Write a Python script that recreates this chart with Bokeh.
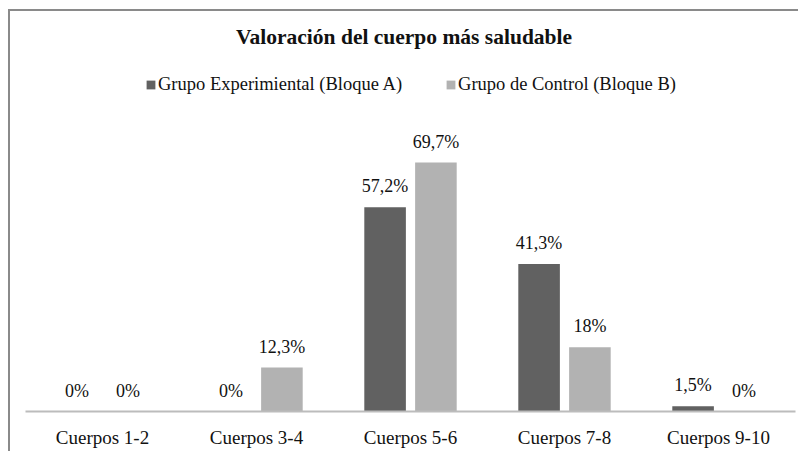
from bokeh.plotting import figure
from bokeh.models import ColumnDataSource, FactorRange, Label, Legend, LegendItem
from bokeh.transform import dodge
from bokeh.core.properties import value
from bokeh.embed import file_html
from bokeh.resources import INLINE

# ---- data ----
categories = ["Cuerpos 1-2", "Cuerpos 3-4", "Cuerpos 5-6", "Cuerpos 7-8", "Cuerpos 9-10"]
experimental = [0, 0, 57.2, 41.3, 1.5]
control = [0, 12.3, 69.7, 18, 0]
series_names = ["Grupo Experimiental (Bloque A)", "Grupo de Control (Bloque B)"]
title_text = "Valoración del cuerpo más saludable"

DARK = "#616161"
LIGHT = "#b2b2b2"
FONT = "Liberation Serif"


def fmt(v):
    s = f"{v:.1f}".rstrip("0").rstrip(".")
    return s.replace(".", ",") + "%"


src = ColumnDataSource(dict(
    cat=categories,
    a=experimental,
    b=control,
    la=[fmt(v) for v in experimental],
    lb=[fmt(v) for v in control],
))

p = figure(
    x_range=FactorRange(factors=categories, range_padding=0),
    y_range=(0, 112.0),
    width=790, height=442,
    output_backend="svg", toolbar_location=None,
    y_axis_location=None,
    min_border_left=15, min_border_right=5,
    min_border_top=0, min_border_bottom=42,
)
p.margin = (11, 0, 0, 10)
p.styles = {"box-shadow": "-2px -2px 0 0 #8a8a8a"}
p.outline_line_color = None
p.xgrid.grid_line_color = None
p.ygrid.grid_line_color = None
p.background_fill_color = "white"
p.border_fill_color = "white"

ax = p.xaxis[0]
ax.axis_line_color = "#bcbcbc"
ax.axis_line_width = 2
ax.major_tick_line_color = None
ax.minor_tick_line_color = None
ax.major_label_standoff = 9
ax.major_label_text_font = FONT
ax.major_label_text_font_size = "19px"
ax.major_label_text_color = "#111111"

OFF = 0.165
W = 0.27
r1 = p.vbar(x=dodge("cat", -OFF, range=p.x_range), top="a", width=W, source=src,
            fill_color=DARK, line_color=None)
r2 = p.vbar(x=dodge("cat", OFF, range=p.x_range), top="b", width=W, source=src,
            fill_color=LIGHT, line_color=None)

for col, lab, off in (("a", "la", -OFF), ("b", "lb", OFF)):
    p.text(x=dodge("cat", off, range=p.x_range), y=col, text=lab, source=src,
           y_offset=-21, text_align="center", text_baseline="alphabetic",
           text_font=value(FONT), text_font_size="18px", text_color="#111111")

p.add_layout(Label(x=2.458, y=104.9, text=title_text, text_align="center",
                   text_baseline="middle", text_font=FONT, text_font_style="bold",
                   text_font_size="21.5px", text_color="#111111"))

legend = Legend(
    items=[LegendItem(label=series_names[0], renderers=[r1]),
           LegendItem(label=series_names[1], renderers=[r2])],
    orientation="horizontal", location=(120, 316),
    padding=0, margin=0, spacing=43,
    glyph_width=11, glyph_height=11, label_standoff=2,
    label_text_font=FONT, label_text_font_size="18.5px", label_text_color="#111111",
    border_line_color=None, background_fill_alpha=0,
)
p.add_layout(legend)

open("out.html", "w").write(file_html(p, INLINE))
